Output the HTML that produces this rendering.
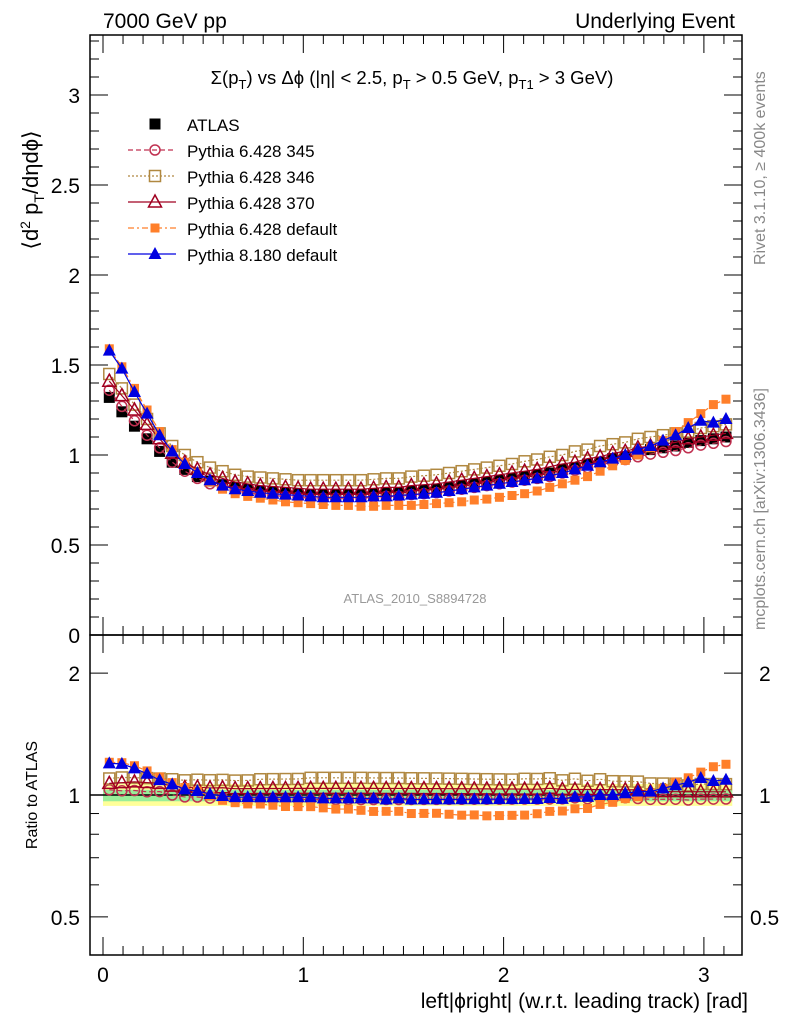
<!DOCTYPE html>
<html><head><meta charset="utf-8"><style>
html,body{margin:0;padding:0;background:#fff;}
svg text{font-family:"Liberation Sans",Arial,sans-serif;}
</style></head><body>
<svg id="c" width="786" height="1024" xmlns="http://www.w3.org/2000/svg"></svg>
<script>
const atlas=[1.32,1.24,1.16,1.09,1.02,0.96,0.92,0.88,0.855,0.835,0.82,0.81,0.80,0.795,0.79,0.785,0.78,0.78,0.78,0.78,0.78,0.785,0.79,0.79,0.80,0.805,0.81,0.82,0.83,0.84,0.85,0.86,0.87,0.88,0.89,0.90,0.92,0.93,0.95,0.96,0.98,0.99,1.01,1.03,1.04,1.05,1.07,1.08,1.09,1.10];
const p345=[1.36,1.27,1.19,1.11,1.04,0.96,0.91,0.87,0.84,0.82,0.80,0.79,0.78,0.775,0.77,0.765,0.76,0.76,0.76,0.76,0.76,0.765,0.77,0.77,0.78,0.785,0.79,0.80,0.81,0.82,0.83,0.84,0.85,0.86,0.87,0.88,0.90,0.915,0.93,0.945,0.96,0.975,0.99,1.005,1.015,1.025,1.04,1.055,1.065,1.075];
const p346=[1.45,1.37,1.28,1.20,1.12,1.05,1.00,0.96,0.93,0.91,0.89,0.88,0.875,0.87,0.865,0.86,0.86,0.86,0.86,0.86,0.86,0.865,0.87,0.87,0.88,0.885,0.89,0.90,0.91,0.92,0.93,0.94,0.95,0.965,0.975,0.99,1.00,1.02,1.03,1.05,1.06,1.07,1.09,1.10,1.11,1.12,1.13,1.15,1.16,1.17];
const p370=[1.41,1.33,1.25,1.17,1.09,1.01,0.96,0.92,0.89,0.87,0.85,0.84,0.83,0.825,0.82,0.815,0.81,0.81,0.81,0.81,0.81,0.815,0.82,0.82,0.83,0.835,0.84,0.85,0.86,0.87,0.88,0.89,0.90,0.91,0.92,0.935,0.95,0.96,0.98,0.99,1.01,1.02,1.04,1.05,1.06,1.07,1.09,1.10,1.11,1.12];
const p6def=[1.59,1.49,1.37,1.25,1.13,1.03,0.96,0.90,0.85,0.81,0.785,0.77,0.76,0.75,0.74,0.735,0.73,0.725,0.72,0.72,0.715,0.715,0.72,0.72,0.72,0.725,0.73,0.735,0.74,0.75,0.755,0.765,0.775,0.785,0.80,0.82,0.84,0.86,0.88,0.91,0.94,0.97,1.00,1.04,1.08,1.13,1.18,1.23,1.28,1.31];
const p8def=[1.58,1.48,1.35,1.23,1.11,1.02,0.95,0.90,0.86,0.83,0.81,0.80,0.79,0.785,0.78,0.775,0.77,0.765,0.765,0.765,0.765,0.77,0.77,0.775,0.78,0.785,0.79,0.80,0.81,0.82,0.83,0.84,0.85,0.86,0.87,0.885,0.90,0.92,0.94,0.96,0.98,1.00,1.03,1.05,1.08,1.11,1.15,1.19,1.18,1.20];
const mainTicks=["0","0.5","1","1.5","2","2.5","3"];
const ratioTicks=["0.5","1","2"];
const xTicks=["0","1","2","3"];

const svg=document.getElementById('c');
const NS='http://www.w3.org/2000/svg';
function mk(tag,attrs,name,parent){const e=document.createElementNS(NS,tag);for(const k in attrs)e.setAttribute(k,attrs[k]);


(parent||svg).appendChild(e);return e;}
function txt(x,y,s,size,anchor,name,fill,extra){const t=mk('text',Object.assign({x:x,y:y,'font-size':size,'text-anchor':anchor||'start',fill:fill||'#000'},extra||{}),name);t.textContent=s;return t;}
const L=90,R=742,T=35,MB=635,RB=955;
const X=v=>103+v*200.3;
const Y=v=>635-v*180;
const YR=r=>795-Math.log10(r)*405;
const n=atlas.length,w=Math.PI/n;
const xc=i=>(i+0.5)*w;

mk('rect',{x:X(0),y:YR(1.065),width:X(Math.PI)-X(0),height:YR(0.94)-YR(1.065),fill:'#ffff99'},'ratio-band-outer');
mk('rect',{x:X(0),y:YR(1.03),width:X(Math.PI)-X(0),height:YR(0.965)-YR(1.03),fill:'#99ee99'},'ratio-band-inner');
mk('line',{x1:L,x2:R,y1:YR(1),y2:YR(1),stroke:'#000','stroke-width':1.5},'ratio-unity-line');

mk('rect',{x:L,y:T,width:R-L,height:MB-T,fill:'none',stroke:'#000','stroke-width':1.5},'main-frame');
mk('rect',{x:L,y:MB,width:R-L,height:RB-MB,fill:'none',stroke:'#000','stroke-width':1.5},'ratio-frame');

for(let k=0;k<=33;k++){const v=k/10,y=Y(v),maj=k%5==0,len=maj?18:9;
 mk('line',{x1:L,x2:L+len,y1:y,y2:y,stroke:'#000'},'y-tick');mk('line',{x1:R,x2:R-len,y1:y,y2:y,stroke:'#000'},'y-tick-right');}
mainTicks.forEach(s=>txt(80,Y(parseFloat(s))+8,s,21,'end','y-tick-label'));
[0.5,0.6,0.7,0.8,0.9,1,2].forEach(r=>{const y=YR(r),maj=(r==1||r==2||r==0.5),len=maj?18:9;
 mk('line',{x1:L,x2:L+len,y1:y,y2:y,stroke:'#000'},'ratio-tick');mk('line',{x1:R,x2:R-len,y1:y,y2:y,stroke:'#000'},'ratio-tick-right');});
ratioTicks.forEach(s=>{const y=YR(parseFloat(s))+8;txt(80,y,s,21,'end','ratio-tick-label');txt(s=='0.5'?750:759,y,s,21,'start','ratio-tick-label-right');});
for(let k=0;k<=31;k++){const v=k/10,x=X(v),maj=k%10==0,len=maj?18:9;
 [MB,RB].forEach(b=>{mk('line',{x1:x,x2:x,y1:b,y2:b-len,stroke:'#000'},'x-tick');});
 mk('line',{x1:x,x2:x,y1:T,y2:T+len,stroke:'#000'},'x-tick-top');
 mk('line',{x1:x,x2:x,y1:MB,y2:MB+len,stroke:'#000'},'x-tick-ratio-top');}
xTicks.forEach(s=>txt(X(parseFloat(s)),982,s,21,'middle','x-tick-label'));

const series=[
 {d:p345,c:'#c03050',m:'circle',dash:'5,3',name:'pythia-6428-345'},
 {d:p346,c:'#b08840',m:'sq-open',dash:'2,2',name:'pythia-6428-346'},
 {d:p370,c:'#a00020',m:'tri-open',dash:'',name:'pythia-6428-370'},
 {d:p6def,c:'#ff7f2a',m:'sq',dash:'6,3,2,3',name:'pythia-6428-default'},
 {d:p8def,c:'#0000e0',m:'tri',dash:'',name:'pythia-8180-default'}];
function marker(m,x,y,c,name){
 if(m=='circle')mk('circle',{cx:x,cy:y,r:5,fill:'none',stroke:c,'stroke-width':1.5},name);
 else if(m=='sq-open')mk('rect',{x:x-5.5,y:y-5.5,width:11,height:11,fill:'none',stroke:c,'stroke-width':1.5},name);
 else if(m=='sq')mk('rect',{x:x-4.5,y:y-4.5,width:9,height:9,fill:c},name);
 else if(m=='blk')mk('rect',{x:x-5.5,y:y-5.5,width:11,height:11,fill:'#000'},name);
 else if(m=='tri-open')mk('polygon',{points:`${x},${y-7} ${x-6.5},${y+5} ${x+6.5},${y+5}`,fill:'none',stroke:c,'stroke-width':1.5},name);
 else mk('polygon',{points:`${x},${y-7} ${x-6.5},${y+5} ${x+6.5},${y+5}`,fill:c},name);}
atlas.forEach((v,i)=>marker('blk',X(xc(i)),Y(v),'#000','atlas-point'));
series.forEach(s=>{
 let p='',pr='';
 s.d.forEach((v,i)=>{p+=(i?'L':'M')+X(xc(i))+','+Y(v);pr+=(i?'L':'M')+X(xc(i))+','+YR(v/atlas[i]);});
 mk('path',{d:p,fill:'none',stroke:s.c,'stroke-width':1.2,'stroke-dasharray':s.dash},s.name+'-line');
 mk('path',{d:pr,fill:'none',stroke:s.c,'stroke-width':1.2,'stroke-dasharray':s.dash},s.name+'-ratio-line');
 s.d.forEach((v,i)=>{marker(s.m,X(xc(i)),Y(v),s.c,s.name+'-point');marker(s.m,X(xc(i)),YR(v/atlas[i]),s.c,s.name+'-ratio-point');});
});

const lg=[['ATLAS','blk','#000',null],['Pythia 6.428 345','circle','#c03050','5,3'],['Pythia 6.428 346','sq-open','#b08840','2,2'],['Pythia 6.428 370','tri-open','#a00020',''],['Pythia 6.428 default','sq','#ff7f2a','6,3,2,3'],['Pythia 8.180 default','tri','#0000e0','']];
lg.forEach((e,i)=>{const y=124+i*26;
 if(e[3]!==null)mk('line',{x1:128,x2:176,y1:y,y2:y,stroke:e[2],'stroke-width':1.2,'stroke-dasharray':e[3]},'legend-line');
 marker(e[1],155,y,e[2],'legend-marker');
 txt(187,y+7,e[0],17,'start','legend-label');});

txt(103,28,'7000 GeV pp',21,'start','top-left-title');
txt(735,28,'Underlying Event',21,'end','top-right-title');
const ti=mk('text',{x:412,y:84,'font-size':18.5,'text-anchor':'middle'},'plot-title');
ti.innerHTML='Σ(p<tspan font-size="13" dy="5">T</tspan><tspan dy="-5">) vs Δϕ (|η| &lt; 2.5, p</tspan><tspan font-size="13" dy="5">T</tspan><tspan dy="-5"> &gt; 0.5 GeV, p</tspan><tspan font-size="13" dy="5">T1</tspan><tspan dy="-5"> &gt; 3 GeV)</tspan>';
const yl=mk('text',{x:0,y:0,'font-size':22,transform:'translate(38,190) rotate(-90)','text-anchor':'middle'},'y-axis-title');
yl.innerHTML='⟨d<tspan font-size="14" dy="-8">2</tspan><tspan dy="8"> p</tspan><tspan font-size="14" dy="6">T</tspan><tspan dy="-6">/dηdϕ⟩</tspan>';
const rl=mk('text',{x:0,y:0,'font-size':16,transform:'translate(37,795) rotate(-90)','text-anchor':'middle'},'ratio-axis-title');rl.textContent='Ratio to ATLAS';
txt(748,1008,'left|ϕright| (w.r.t. leading track) [rad]',21,'end','x-axis-title');
txt(415,603,'ATLAS_2010_S8894728',13,'middle','analysis-label','#999');
const r1=mk('text',{x:0,y:0,'font-size':16,fill:'#888',transform:'translate(765,265) rotate(-90)'},'rivet-version');r1.textContent='Rivet 3.1.10, ≥ 400k events';
const r2=mk('text',{x:0,y:0,'font-size':16,fill:'#888',transform:'translate(765,630) rotate(-90)'},'source-label');r2.textContent='mcplots.cern.ch [arXiv:1306.3436]';
</script>
</body></html>
